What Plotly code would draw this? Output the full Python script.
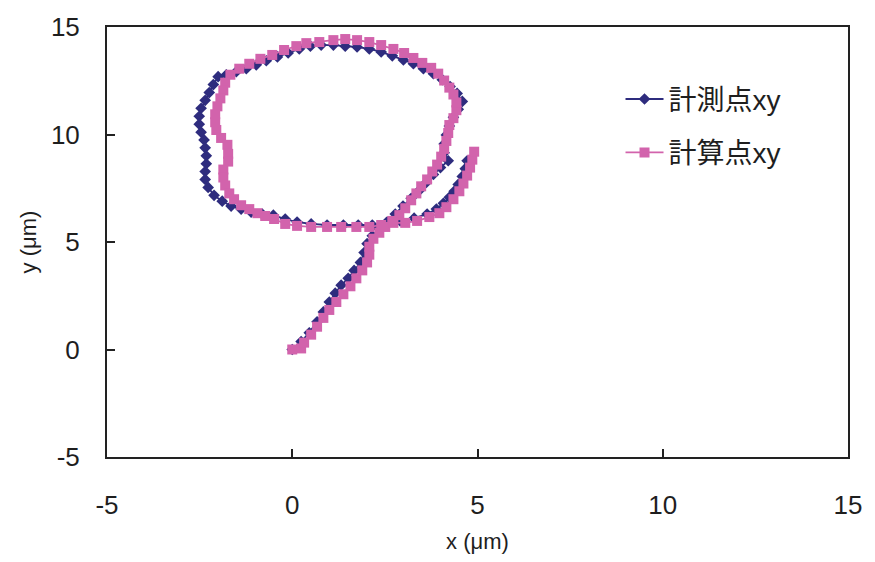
import plotly.graph_objects as go

# 計測点xy (measured)
meas_x = [0.00, 0.24, 0.46, 0.67, 0.84, 1.00, 1.16, 1.32, 1.51, 1.67, 1.84, 1.94, 2.02, 2.16, 2.35,
          2.56, 2.78, 2.99, 3.21, 3.43, 3.62, 3.81, 4.00, 4.21, 4.10, 4.10, 4.16, 4.24, 4.35, 4.48,
          4.59, 4.45, 4.26, 4.05, 3.81, 3.54, 3.27, 3.00, 2.70, 2.40, 2.08, 1.75, 1.43, 1.11, 0.78,
          0.49, 0.19, -0.11, -0.40, -0.70, -0.97, -1.24, -1.51, -1.78, -2.00, -2.13, -2.24, -2.35,
          -2.46, -2.51, -2.51, -2.46, -2.38, -2.35, -2.32, -2.32, -2.35, -2.35, -2.27, -2.11, -1.89,
          -1.65, -1.38, -1.11, -0.81, -0.51, -0.19, 0.13, 0.51, 0.94, 1.38, 1.78, 2.16, 2.54, 2.91,
          3.29, 3.64, 3.89, 4.08, 4.24, 4.37, 4.48, 4.59, 4.67, 4.72]
meas_y = [0.00, 0.37, 0.78, 1.29, 1.75, 2.21, 2.62, 2.99, 3.31, 3.68, 4.05, 4.51, 4.92, 5.29, 5.61,
          5.93, 6.30, 6.67, 7.03, 7.40, 7.77, 8.14, 8.46, 8.78, 9.15, 9.56, 9.98, 10.39, 10.80, 11.17,
          11.54, 11.91, 12.23, 12.55, 12.83, 13.06, 13.29, 13.47, 13.66, 13.84, 13.98, 14.07, 14.11,
          14.16, 14.16, 14.11, 13.98, 13.79, 13.61, 13.43, 13.24, 13.06, 12.92, 12.78, 12.69, 12.32,
          11.95, 11.59, 11.22, 10.85, 10.48, 10.11, 9.75, 9.38, 9.01, 8.64, 8.28, 7.91, 7.54, 7.17,
          6.90, 6.67, 6.53, 6.39, 6.30, 6.25, 6.07, 5.93, 5.84, 5.79, 5.79, 5.79, 5.79, 5.89, 5.98,
          6.11, 6.30, 6.53, 6.80, 7.08, 7.36, 7.68, 8.05, 8.41, 8.78]

# 計算点xy (calculated)
calc_x = [0.00, 0.24, 0.32, 0.51, 0.67, 0.84, 1.00, 1.19, 1.38, 1.57, 1.73, 1.89, 2.02, 2.08, 2.08,
          2.19, 2.35, 2.51, 2.70, 2.89, 3.05, 3.21, 3.35, 3.48, 3.64, 3.78, 3.91, 4.02, 4.10, 4.16,
          4.21, 4.24, 4.35, 4.43, 4.43, 4.35, 4.24, 4.10, 3.94, 3.75, 3.51, 3.27, 3.02, 2.73, 2.40,
          2.08, 1.75, 1.43, 1.11, 0.73, 0.38, 0.11, -0.22, -0.54, -0.86, -1.16, -1.43, -1.67, -1.81,
          -1.86, -1.94, -2.02, -2.08, -2.08, -2.05, -1.92, -1.75, -1.73, -1.73, -1.86, -1.86, -1.81,
          -1.70, -1.57, -1.38, -1.16, -0.94, -0.73, -0.49, -0.19, 0.13, 0.51, 0.94, 1.32, 1.73, 2.08,
          2.40, 2.73, 3.05, 3.37, 3.70, 3.97, 4.16, 4.35, 4.51, 4.62, 4.72, 4.80, 4.86, 4.91]
calc_y = [0.00, 0.05, 0.32, 0.69, 1.06, 1.47, 1.84, 2.21, 2.57, 2.94, 3.31, 3.68, 4.05, 4.41, 4.78,
          5.15, 5.43, 5.70, 5.98, 6.25, 6.57, 6.94, 7.26, 7.59, 7.91, 8.28, 8.60, 8.97, 9.33, 9.70,
          10.07, 10.44, 10.76, 11.13, 11.49, 11.86, 12.18, 12.51, 12.83, 13.10, 13.33, 13.56, 13.79,
          13.98, 14.16, 14.30, 14.39, 14.44, 14.39, 14.30, 14.25, 14.11, 13.93, 13.70, 13.52, 13.29,
          13.06, 12.78, 12.41, 12.05, 11.68, 11.31, 10.94, 10.57, 10.21, 9.84, 9.52, 9.10, 8.74, 8.37,
          8.00, 7.63, 7.26, 6.99, 6.71, 6.53, 6.34, 6.21, 6.07, 5.84, 5.75, 5.70, 5.70, 5.70, 5.70,
          5.70, 5.79, 5.89, 5.89, 5.98, 6.16, 6.34, 6.62, 6.99, 7.36, 7.72, 8.09, 8.46, 8.83, 9.20]

tick_vals = [-5, 0, 5, 10, 15]
tick_text = ["-5", "0", "5", "10", "15"]

FONT = "Liberation Sans, Arial, Noto Sans CJK JP, sans-serif"
NAVY = "#2E2C7E"
PINK = "#D263AC"
TXT = "#1e1e1e"

fig = go.Figure()
fig.add_trace(go.Scatter(
    x=meas_x, y=meas_y, mode="lines+markers", name="計測点xy", legendgroup="a",
    line=dict(color=NAVY, width=1.8),
    marker=dict(symbol="diamond", size=9, color=NAVY),
))
fig.add_trace(go.Scatter(
    x=calc_x, y=calc_y, mode="lines+markers", name="計算点xy", legendgroup="b",
    line=dict(color=PINK, width=1.8),
    marker=dict(symbol="square", size=10, color=PINK),
))

axis_common = dict(
    showline=True, mirror=True, linecolor="#222222", linewidth=2,
    ticks="inside", ticklen=8, tickwidth=1.5, tickcolor="#222222",
    showgrid=False, zeroline=False,
    tickvals=tick_vals, ticktext=tick_text,
    tickfont=dict(family=FONT, size=26, color=TXT),
)
fig.update_xaxes(range=[-5, 15], title=dict(text="x (μm)", font=dict(family=FONT, size=22, color=TXT), standoff=14),
                 ticklabelstandoff=24, **axis_common)
fig.update_yaxes(range=[-5, 15], title=dict(text="y (μm)", font=dict(family=FONT, size=22, color=TXT), standoff=8),
                 ticklabelstandoff=20, **axis_common)

fig.update_layout(
    width=875, height=562,
    margin=dict(l=107, r=27, t=24, b=103),
    paper_bgcolor="white", plot_bgcolor="white",
    showlegend=True,
    legend=dict(x=0.693, y=0.89, xanchor="left", yanchor="top",
                font=dict(family=FONT, size=28, color=TXT),
                traceorder="grouped", tracegroupgap=14, itemwidth=38,
                bgcolor="rgba(0,0,0,0)"),
)

fig.write_html("out.html")
